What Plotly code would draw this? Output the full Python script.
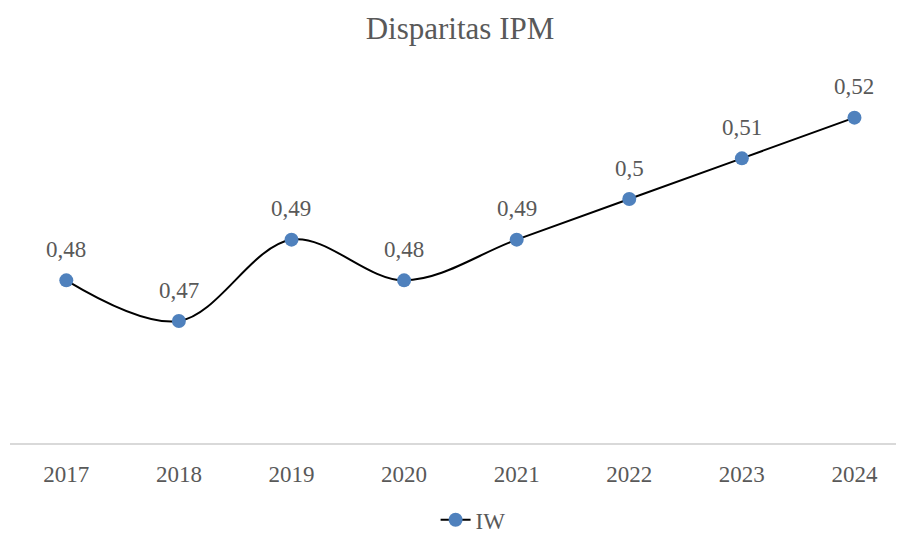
import plotly.graph_objects as go

years = ["2017", "2018", "2019", "2020", "2021", "2022", "2023", "2024"]
iw_values = [0.48, 0.47, 0.49, 0.48, 0.49, 0.50, 0.51, 0.52]
value_labels = ["0,48", "0,47", "0,49", "0,48", "0,49", "0,5", "0,51", "0,52"]

FONT = "Liberation Serif, Times New Roman, serif"
TEXT = "#595959"

fig = go.Figure()
fig.add_trace(go.Scatter(
    x=years, y=iw_values, name="IW", mode="lines+markers",
    line=dict(color="black", width=2, shape="spline", smoothing=1.0),
    marker=dict(color="#4F81BD", size=14),
))

for i, (y, t) in enumerate(zip(iw_values, value_labels)):
    fig.add_annotation(x=i, y=y, xref="x", yref="y", text=t, showarrow=False,
                       yshift=31, font=dict(family=FONT, size=23, color=TEXT))

fig.update_layout(
    width=904, height=535,
    margin=dict(l=2, r=8, t=69, b=96),
    paper_bgcolor="white", plot_bgcolor="white",
    title=dict(text="Disparitas IPM", x=0.5, xanchor="center", y=0.963, yanchor="middle",
               font=dict(family=FONT, size=31, color=TEXT)),
    showlegend=True,
    legend=dict(orientation="h", x=0.518, xanchor="center", y=-0.21, yanchor="middle",
                font=dict(family=FONT, size=23, color=TEXT)),
    xaxis=dict(type="category", range=[-0.5, 7.44], showgrid=False, zeroline=False,
               showline=True, linecolor="#D9D9D9", linewidth=2, ticks="",
               tickfont=dict(family=FONT, size=23, color=TEXT), ticklabelstandoff=9),
    yaxis=dict(range=[0.44, 0.53], visible=False),
)

fig.write_html("out.html")
